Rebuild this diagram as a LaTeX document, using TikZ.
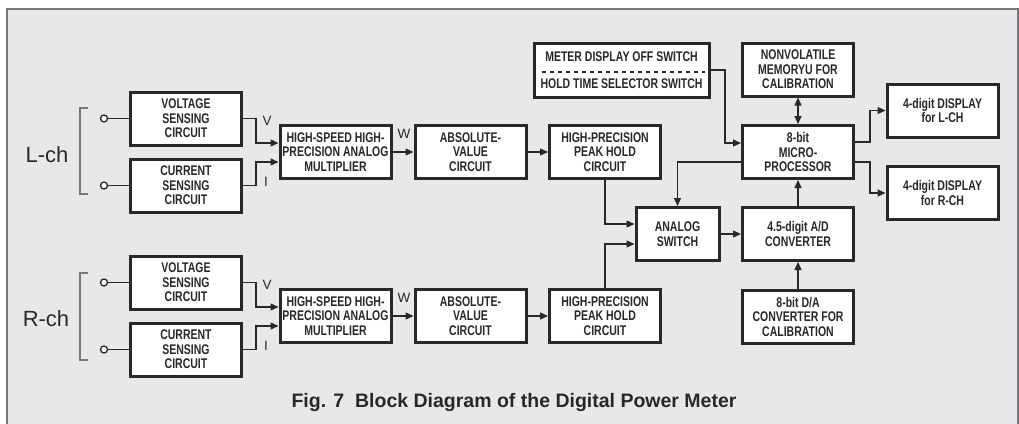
\documentclass[tikz,border=0pt]{standalone}
\usepackage{fontspec}
\setmainfont{Liberation Sans}
\newfontfamily\boxfont[FakeStretch=0.75]{Liberation Sans}
\usepackage{tikz}
\usetikzlibrary{positioning, arrows.meta, calc}
\definecolor{panelgray}{RGB}{232, 232, 234}
\definecolor{framegray}{RGB}{120, 120, 124}
\definecolor{inkdark}{RGB}{40, 40, 42}

\begin{document}
\begin{tikzpicture}[x=1pt, y=-1pt,
    blk/.style={draw=inkdark, line width=3pt, fill=white, align=center,
                minimum width=111pt, minimum height=53pt, inner sep=2pt,
                font=\boxfont\bfseries\fontsize{14}{14.5}\selectfont, text=inkdark},
    wire/.style={draw=inkdark, line width=1.3pt},
    sig/.style={wire, -{Triangle[length=8pt, width=7pt]}},
    lbl/.style={font=\fontsize{13.5}{14}\selectfont, text=inkdark},
    chlbl/.style={font=\fontsize{22}{24}\selectfont, text=inkdark}]
  \useasboundingbox (0,0) rectangle (1019,423);
  % background panel
  \fill[white] (0,0) rectangle (1019,423);
  \draw[framegray, line width=1.2pt, fill=panelgray] (7,430) -- (7,9) -- (1018,9) -- (1018,430);

  % L channel
  \node[blk] (vsL) at (186,118.5) {VOLTAGE\\SENSING\\CIRCUIT};
  \node[blk] (csL) at (186,185.5) {CURRENT\\SENSING\\CIRCUIT};
  \node[blk] (mulL) at (335.5,152) {HIGH-SPEED HIGH-\\PRECISION ANALOG\\MULTIPLIER};
  \node[blk] (absL) at (470.5,152) {ABSOLUTE-\\VALUE\\CIRCUIT};
  \node[blk] (pkL) at (605,152) {HIGH-PRECISION\\PEAK HOLD\\CIRCUIT};

  % R channel
  \node[blk] (vsR) at (186,282.5) {VOLTAGE\\SENSING\\CIRCUIT};
  \node[blk] (csR) at (186,349.5) {CURRENT\\SENSING\\CIRCUIT};
  \node[blk] (mulR) at (335.5,316) {HIGH-SPEED HIGH-\\PRECISION ANALOG\\MULTIPLIER};
  \node[blk] (absR) at (470.5,316) {ABSOLUTE-\\VALUE\\CIRCUIT};
  \node[blk] (pkR) at (605,316) {HIGH-PRECISION\\PEAK HOLD\\CIRCUIT};

  % common part
  \node[blk, minimum width=83pt] (sw) at (677.5,234) {ANALOG\\SWITCH};
  \node[blk] (ad) at (798,234) {4.5-digit A/D\\CONVERTER};
  \node[blk] (da) at (798,316.5) {8-bit D/A\\CONVERTER FOR\\CALIBRATION};
  \node[blk] (mpu) at (798,152) {8-bit\\MICRO-\\PROCESSOR};
  \node[blk] (mem) at (798,69.5) {NONVOLATILE\\MEMORYU FOR\\CALIBRATION};
  \node[blk, minimum width=175pt, minimum height=54pt] (msw) at (621.5,70)
    {METER DISPLAY OFF SWITCH\\[12pt]HOLD TIME SELECTOR SWITCH};
  \draw[inkdark, line width=1.3pt, dash pattern=on 4.5pt off 3.5pt]
    ($(msw.west)+(9,2)$) -- ($(msw.east)+(-6,2)$);
  \node[blk] (dispL) at (942.5,110.5) {4-digit DISPLAY\\for L-CH};
  \node[blk] (dispR) at (942.5,193) {4-digit DISPLAY\\for R-CH};

  % input terminals and brackets
  \foreach \b/\ch in {vsL/1, csL/2, vsR/3, csR/4} {
    \coordinate (t\ch) at ($(\b.west)+(-25,0)$);
    \draw[wire] (t\ch) -- (\b.west);
    \draw[inkdark, line width=1.3pt, fill=white] (t\ch) circle (3.5pt);
  }
  \draw[framegray, line width=1.2pt] (88,108) -- (80,108) -- (80,194) -- (88,194);
  \draw[framegray, line width=1.2pt] (88,273) -- (80,273) -- (80,360) -- (88,360);
  \node[chlbl] (lch) at (47,155) {L-ch};
  \node[chlbl] (rch) at (46,319) {R-ch};

  % V and I into the multipliers
  \foreach \c in {L, R} {
    \draw[sig] (vs\c.east) -- ++(13,0) |- ($(mul\c.west)+(0,-9)$);
    \draw[sig] (cs\c.east) -- ++(13,0) |- ($(mul\c.west)+(0,10)$);
    \draw[sig] (mul\c) -- (abs\c);
    \draw[sig] (abs\c) -- (pk\c);
  }
  \node[lbl] (vL) at (267,121) {V};
  \node[lbl] (iL) at (266,182) {I};
  \node[lbl] (wL) at (404,134) {W};
  \node[lbl] (vR) at (267,285) {V};
  \node[lbl] (iR) at (266,346) {I};
  \node[lbl] (wR) at (404,298) {W};

  % peak holds into the analog switch
  \draw[sig] (pkL.south) |- ($(sw.west)+(0,-10)$);
  \draw[sig] (pkR.north) |- ($(sw.west)+(0,10)$);
  \draw[sig] (sw) -- (ad);
  \draw[sig] (da) -- (ad);
  \draw[sig] (ad) -- (mpu);
  \draw[wire, {Triangle[length=8pt, width=7pt]}-{Triangle[length=8pt, width=7pt]}] (mem) -- (mpu);
  \draw[sig] (msw.east) -- (725,70) |- ($(mpu.west)+(0,-9)$);
  \draw[sig] ($(mpu.west)+(0,10)$) -| (sw.north);
  \draw[sig] ($(mpu.east)+(0,-10)$) -- (870,142) |- (dispL.west);
  \draw[sig] ($(mpu.east)+(0,10)$) -- (870,162) |- (dispR.west);

  % caption
  \node[font=\bfseries\fontsize{19.5}{22}\selectfont, text=inkdark] (cap) at (514,402)
    {Fig. 7\ \ Block Diagram of the Digital Power Meter};
\end{tikzpicture}
\end{document}
